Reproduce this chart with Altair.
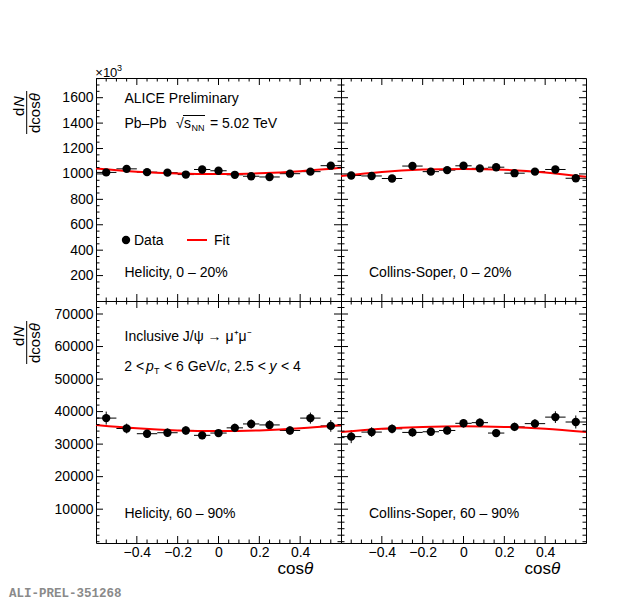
import altair as alt
import pandas as pd

FONT = "Liberation Sans"

# ---------------- data ----------------
cos_center = [-0.55, -0.45, -0.35, -0.25, -0.16, -0.08, 0.0, 0.08, 0.16, 0.25, 0.35, 0.45, 0.55]
bin_lo = [-0.6, -0.5, -0.4, -0.3, -0.2, -0.12, -0.04, 0.04, 0.12, 0.2, 0.3, 0.4, 0.5]
bin_hi = [-0.5, -0.4, -0.3, -0.2, -0.12, -0.04, 0.04, 0.12, 0.2, 0.3, 0.4, 0.5, 0.6]

# Helicity 0-20% (x10^3)
hel_0_20 = [1012, 1040, 1014, 1010, 995, 1035, 1025, 993, 982, 976, 1002, 1018, 1065]
hel_0_20_err = [9, 8, 8, 8, 8, 8, 8, 8, 8, 8, 8, 8, 9]
# Collins-Soper 0-20% (x10^3)
cs_0_20 = [988, 984, 964, 1062, 1018, 1030, 1064, 1044, 1053, 1006, 1018, 1035, 966]
cs_0_20_err = [9, 8, 8, 8, 8, 8, 8, 8, 8, 8, 8, 8, 9]
# Helicity 60-90%
hel_60_90 = [38000, 34800, 33200, 33500, 34200, 32700, 33400, 35000, 36200, 35900, 34200, 38000, 35600]
hel_60_90_err = [2000, 1500, 1300, 1300, 1300, 1200, 1200, 1300, 1400, 1400, 1300, 1700, 1800]
# Collins-Soper 60-90%
cs_60_90 = [32300, 33700, 34700, 33600, 33800, 34200, 36400, 36600, 33400, 35300, 36300, 38300, 36800]
cs_60_90_err = [2000, 1500, 1400, 1300, 1200, 1200, 1300, 1300, 1200, 1300, 1400, 1800, 2000]

# fit curves
fit_cos = [-0.6, -0.4, -0.2, 0.0, 0.2, 0.4, 0.6]
fit_hel_0_20 = [1043, 1018, 1004, 1000, 1005, 1021, 1048]
fit_cs_0_20 = [983, 1016, 1034, 1039, 1033, 1012, 977]
fit_hel_60_90 = [35900, 34850, 34200, 34000, 34200, 34850, 35900]
fit_cs_60_90 = [33700, 34700, 35300, 35500, 35300, 34700, 33700]

# axis ticks
x_major = [-0.4, -0.2, 0.0, 0.2, 0.4]
x_minor = [-0.55, -0.5, -0.45, -0.35, -0.3, -0.25, -0.15, -0.1, -0.05,
           0.05, 0.1, 0.15, 0.25, 0.3, 0.35, 0.45, 0.5, 0.55]
top_y_major = [200, 400, 600, 800, 1000, 1200, 1400, 1600]
top_y_minor = [50, 100, 150, 250, 300, 350, 450, 500, 550, 650, 700, 750, 850, 900, 950,
               1050, 1100, 1150, 1250, 1300, 1350, 1450, 1500, 1550, 1650, 1700, 1750]
bot_y_major = [10000, 20000, 30000, 40000, 50000, 60000, 70000]
bot_y_minor = [0, 2000, 4000, 6000, 8000, 12000, 14000, 16000, 18000, 22000, 24000, 26000, 28000,
               32000, 34000, 36000, 38000, 42000, 44000, 46000, 48000, 52000, 54000, 56000, 58000,
               62000, 64000, 66000, 68000, 72000]

W = 245
H_TOP = 223
H_BOT = 242
XS = alt.Scale(domain=[-0.6, 0.6], nice=False, zero=False)
ONE = pd.DataFrame({"k": [0]})


def T(s, x, y, size=14, align="left", baseline="alphabetic", italic=False, angle=0,
      color="black", font=FONT, weight="normal"):
    kw = dict(text=s, fontSize=size, align=align, baseline=baseline, font=font,
              color=color, fontWeight=weight)
    if italic:
        kw["fontStyle"] = "italic"
    if angle:
        kw["angle"] = angle
    return alt.Chart(ONE).mark_text(**kw).encode(x=alt.value(x), y=alt.value(y))


def R(x1, y1, x2, y2, color="black", width=1):
    return alt.Chart(ONE).mark_rule(color=color, strokeWidth=width).encode(
        x=alt.value(x1), y=alt.value(y1), x2=alt.value(x2), y2=alt.value(y2))


def make_panel(vals, errs, fit_vals, ydom, H, y_major, y_minor, show_x, show_y, extras):
    ys = alt.Scale(domain=ydom, nice=False, zero=False)
    if show_x:
        xaxis = alt.Axis(values=x_major, format=".1~f", labelFont=FONT, labelFontSize=14,
                         labelColor="black", labelPadding=2, ticks=False, domain=False,
                         grid=False, labelFlush=False, labelOverlap=False)
    else:
        xaxis = None
    if show_y:
        yaxis = alt.Axis(values=y_major, format="d", labelFont=FONT, labelFontSize=14,
                         labelColor="black", labelPadding=3, ticks=False, domain=False,
                         grid=False, labelFlush=False, labelOverlap=False)
    else:
        yaxis = None

    def X(f):
        return alt.X(f, scale=XS, axis=xaxis, title=None)

    def Y(f):
        return alt.Y(f, scale=ys, axis=yaxis, title=None)

    df = pd.DataFrame({"c": cos_center, "lo": bin_lo, "hi": bin_hi, "v": vals, "e": errs})
    fdf = pd.DataFrame({"fc": fit_cos, "fv": fit_vals})

    hbar = alt.Chart(df).mark_rule(color="black", strokeWidth=1).encode(
        x=X("lo:Q"), x2=alt.X2("hi:Q"), y=Y("v:Q"))
    vbar = alt.Chart(df).transform_calculate(
        ylo="datum.v - datum.e", yhi="datum.v + datum.e"
    ).mark_rule(color="black", strokeWidth=1).encode(
        x=X("c:Q"), y=Y("ylo:Q"), y2=alt.Y2("yhi:Q"))
    fit = alt.Chart(fdf).mark_line(color="#ff0000", strokeWidth=2, interpolate="natural").encode(
        x=X("fc:Q"), y=Y("fv:Q"))
    pts = alt.Chart(df).mark_circle(color="black", size=70, opacity=1).encode(
        x=X("c:Q"), y=Y("v:Q"))

    xM = alt.Chart(pd.DataFrame({"t": x_major}))
    xm = alt.Chart(pd.DataFrame({"t": x_minor}))
    yM = alt.Chart(pd.DataFrame({"t": y_major}))
    ym = alt.Chart(pd.DataFrame({"t": y_minor}))
    ticks = [
        xM.mark_rule(color="black").encode(x=X("t:Q"), y=alt.value(H), y2=alt.value(H - 7)),
        xM.mark_rule(color="black").encode(x=X("t:Q"), y=alt.value(0), y2=alt.value(7)),
        xm.mark_rule(color="black").encode(x=X("t:Q"), y=alt.value(H), y2=alt.value(H - 3.5)),
        xm.mark_rule(color="black").encode(x=X("t:Q"), y=alt.value(0), y2=alt.value(3.5)),
        yM.mark_rule(color="black").encode(y=Y("t:Q"), x=alt.value(0), x2=alt.value(7)),
        yM.mark_rule(color="black").encode(y=Y("t:Q"), x=alt.value(W), x2=alt.value(W - 7)),
        ym.mark_rule(color="black").encode(y=Y("t:Q"), x=alt.value(0), x2=alt.value(3.5)),
        ym.mark_rule(color="black").encode(y=Y("t:Q"), x=alt.value(W), x2=alt.value(W - 3.5)),
    ]
    layers = [hbar, vbar, fit, pts] + ticks + extras
    return alt.layer(*layers).properties(width=W, height=H)


def ytitle(dy):
    return [
        T("d", -77.5, 38 + dy, size=15, baseline="middle", angle=270),
        T("N", -77.5, 29.1 + dy, size=15, baseline="middle", angle=270, italic=True),
        R(-69.3, 13 + dy, -69.3, 56 + dy),
        T("dcos", -61, 55 + dy, size=15, baseline="middle", angle=270),
        T("θ", -61, 23.3 + dy, size=15, baseline="middle", angle=270, italic=True),
    ]


tl_extras = [
    R(-87, -69, -86, -69, color="white"),
    T("×10", -0.7, -1.5, size=13),
    T("3", 21, -7.5, size=9),
    T("ALICE Preliminary", 28.5, 24.7),
    T("Pb–Pb", 28.5, 49.7),
    T("√", 80, 49.7),
    R(87, 37.5, 109, 37.5, width=1),
    T("s", 88, 49.7),
    T("NN", 95.5, 52.7, size=9),
    T("= 5.02 TeV", 114, 49.7),
    alt.Chart(ONE).mark_circle(color="black", size=70, opacity=1).encode(
        x=alt.value(30), y=alt.value(162)),
    T("Data", 38, 167),
    R(91, 162, 111, 162, color="#ff0000", width=2),
    T("Fit", 118, 167),
    T("Helicity, 0 – 20%", 28.5, 199),
] + ytitle(0)

tr_extras = [
    T("Collins-Soper, 0 – 20%", 28, 199),
]

bl_extras = [
    T("Inclusive J/ψ → μ⁺μ⁻", 28.5, 40),
    T("2 <", 28.3, 70),
    T("p", 50, 70, italic=True),
    T("T", 58, 73, size=9),
    T("< 6 GeV/", 68, 70),
    T("c", 123.5, 70, italic=True),
    T(", 2.5 <", 130.5, 70),
    T("y", 173.5, 70, italic=True),
    T("< 4", 185, 70),
    T("Helicity, 60 – 90%", 28.5, 217),
    T("cos", 208, 273, size=17, align="right"),
    T("θ", 208, 273, size=17, italic=True),
    T("ALI-PREL-351268", -87, 292, size=12.5, baseline="middle", color="#8a8a8a",
      font="Liberation Mono", weight="bold"),
] + ytitle(7)

br_extras = [
    T("Collins-Soper, 60 – 90%", 28, 217),
    T("cos", 210, 273, size=17, align="right"),
    T("θ", 210, 273, size=17, italic=True),
]

TL = make_panel(hel_0_20, hel_0_20_err, fit_hel_0_20, [0, 1755], H_TOP,
                top_y_major, top_y_minor, False, True, tl_extras)
TR = make_panel(cs_0_20, cs_0_20_err, fit_cs_0_20, [0, 1755], H_TOP,
                top_y_major, top_y_minor, False, False, tr_extras)
BL = make_panel(hel_60_90, hel_60_90_err, fit_hel_60_90, [-400, 74000], H_BOT,
                bot_y_major, bot_y_minor, True, True, bl_extras)
BR = make_panel(cs_60_90, cs_60_90_err, fit_cs_60_90, [-400, 74000], H_BOT,
                bot_y_major, bot_y_minor, True, False, br_extras)

chart = alt.concat(TL, TR, BL, BR, columns=2, spacing=0, bounds="flush", align="each").properties(
    padding=0, background="white"
).configure_view(stroke="black", strokeWidth=1)

chart.save("out.html", embed_options={"renderer": "svg", "actions": False})
